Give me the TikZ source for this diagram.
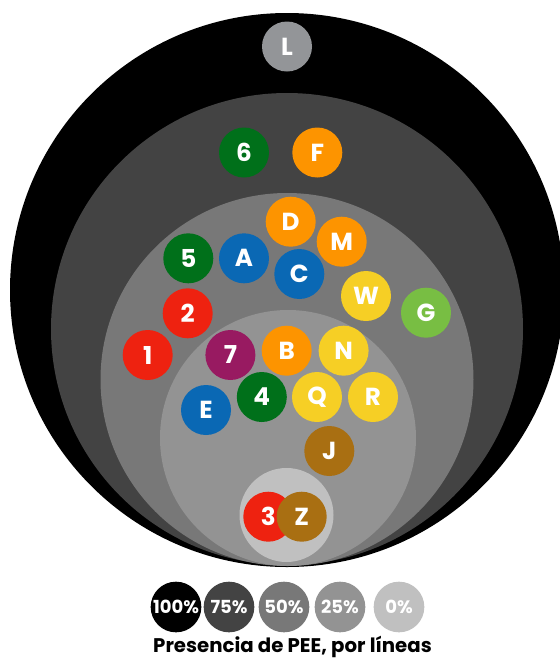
\documentclass[tikz,border=0pt]{standalone}
\usepackage{fontspec}
\setmainfont{Poppins}
\definecolor{c100}{HTML}{000000}
\definecolor{c75}{HTML}{434343}
\definecolor{c50}{HTML}{787878}
\definecolor{c25}{HTML}{939393}
\definecolor{c0}{HTML}{C0C0C0}
\definecolor{lgray}{HTML}{939598}
\definecolor{dgreen}{HTML}{00701A}
\definecolor{lorange}{HTML}{FD9400}
\definecolor{lblue}{HTML}{0A68B4}
\definecolor{lred}{HTML}{EE2210}
\definecolor{lyellow}{HTML}{F6CF25}
\definecolor{lgreen}{HTML}{78BE43}
\definecolor{lpurple}{HTML}{981A61}
\definecolor{lbrown}{HTML}{A96F12}
\tikzset{
  zone/.style={circle, inner sep=0pt, draw=none},
  linea/.style={circle, minimum size=37.5pt, inner sep=0pt, text=white,
    font=\bfseries\fontsize{18.5}{18.5}\selectfont},
  leyenda/.style={circle, minimum size=38pt, inner sep=0pt, text=white,
    font=\bfseries\fontsize{13.5}{13.5}\selectfont},
}
\begin{document}
\begin{tikzpicture}[x=0.75pt, y=-0.75pt]
\clip (0,0) rectangle (560,658);
\fill[white] (0,0) rectangle (560,658);
% zones
\node[zone, fill=c100, minimum size=415.5pt] (z100) at (287,290) {};
\node[zone, fill=c75, minimum size=354pt] (z75) at (287,329) {};
\node[zone, fill=c50, minimum size=279.75pt] (z50) at (287,379.5) {};
\node[zone, fill=c25, minimum size=192pt] (z25) at (288,438) {};
\node[zone, fill=c0, minimum size=70.5pt] (z0) at (286.5,515) {};
% lines
\node[linea, fill=lgray] (L) at (287,46.5) {L};
\node[linea, fill=dgreen] (l6) at (244,152.5) {6};
\node[linea, fill=lorange] (F) at (317.3,152.5) {F};
\node[linea, fill=lorange] (D) at (290.7,221.7) {D};
\node[linea, fill=lorange] (M) at (341.7,241.7) {M};
\node[linea, fill=dgreen] (l5) at (188.3,258.3) {5};
\node[linea, fill=lblue] (A) at (244,258.3) {A};
\node[linea, fill=lblue] (C) at (299.3,274) {C};
\node[linea, fill=lyellow] (W) at (366,296) {W};
\node[linea, fill=lgreen] (G) at (426,312.7) {G};
\node[linea, fill=lred] (l2) at (187.7,313.3) {2};
\node[linea, fill=lred] (l1) at (147.7,355) {1};
\node[linea, fill=lpurple] (l7) at (230.4,355) {7};
\node[linea, fill=lorange] (B) at (286.7,350.7) {B};
\node[linea, fill=lyellow] (N) at (343.6,350.7) {N};
\node[linea, fill=lblue] (E) at (206,410) {E};
\node[linea, fill=dgreen] (l4) at (261.8,397) {4};
\node[linea, fill=lyellow] (Q) at (317,397) {Q};
\node[linea, fill=lyellow] (R) at (373,397) {R};
\node[linea, fill=lbrown] (J) at (329.3,451) {J};
\node[linea, fill=lred] (l3) at (268.3,516.7) {3};
\node[linea, fill=lbrown] (Z) at (301.7,516.7) {Z};
% legend
\node[leyenda, fill=c100] (k100) at (176,607) {100\%};
\node[leyenda, fill=c75] (k75) at (229,607) {75\%};
\node[leyenda, fill=c50] (k50) at (284,607) {50\%};
\node[leyenda, fill=c25] (k25) at (340,607) {25\%};
\node[leyenda, fill=c0] (k0) at (399,607) {0\%};
\node[font=\bfseries\fontsize{14.8}{14.8}\selectfont, inner sep=0pt] (title) at (292.5,647) {Presencia de PEE, por líneas};
\end{tikzpicture}
\end{document}
